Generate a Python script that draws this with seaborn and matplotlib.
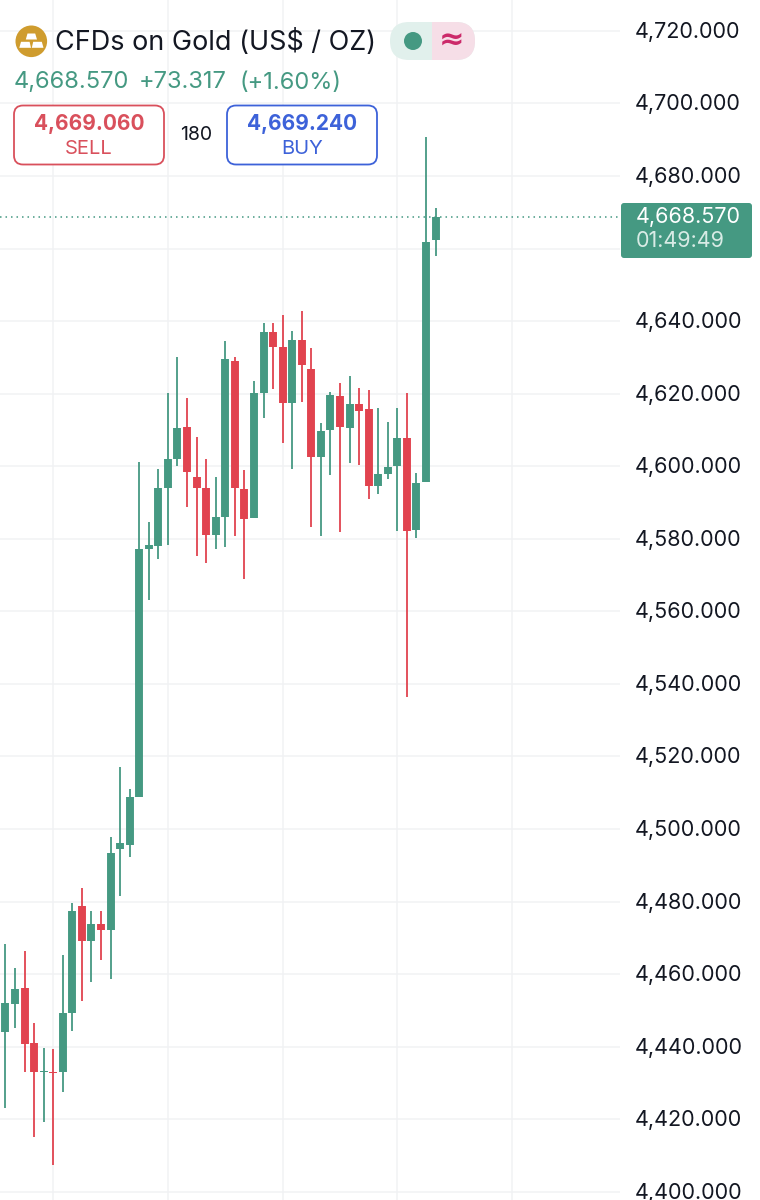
import numpy as np
import pandas as pd
import matplotlib
matplotlib.use("Agg")
import matplotlib.pyplot as plt
from matplotlib.patches import Circle, FancyBboxPatch, Polygon, Rectangle
from matplotlib.transforms import ScaledTranslation
import seaborn as sns

# candles, oldest first
opens = [4444.1, 4451.7, 4456.2, 4441.1, 4433.0, 4433.0, 4432.9, 4449.4, 4478.7, 4469.2,
         4473.8, 4472.2, 4494.5, 4495.7, 4508.8, 4577.2, 4578.0, 4594.1, 4601.9, 4610.7,
         4597.1, 4594.0, 4581.0, 4586.0, 4629.0, 4593.7, 4585.8, 4620.3, 4637.1, 4632.9,
         4617.3, 4634.8, 4626.7, 4602.5, 4610.0, 4619.4, 4610.6, 4617.2, 4615.8, 4594.6,
         4597.9, 4600.0, 4607.7, 4582.4, 4595.6, 4662.3]
highs = [4468.2, 4461.6, 4466.4, 4446.5, 4439.7, 4439.4, 4465.3, 4479.5, 4483.8, 4477.3,
         4477.4, 4497.9, 4517.0, 4511.0, 4601.1, 4584.7, 4599.2, 4620.1, 4630.0, 4618.9,
         4608.0, 4602.0, 4597.0, 4634.5, 4630.2, 4599.0, 4623.6, 4639.6, 4639.6, 4641.7,
         4637.3, 4642.9, 4632.5, 4611.8, 4620.5, 4622.9, 4624.9, 4621.5, 4621.0, 4616.0,
         4612.1, 4616.0, 4620.3, 4598.2, 4690.7, 4671.1]
lows = [4423.0, 4445.1, 4433.0, 4415.2, 4419.3, 4407.3, 4427.4, 4444.3, 4452.5, 4457.8,
        4463.9, 4458.7, 4481.6, 4492.4, 4508.8, 4563.1, 4574.4, 4578.3, 4600.1, 4588.8,
        4575.3, 4573.2, 4577.2, 4577.6, 4580.8, 4569.0, 4585.8, 4613.2, 4621.2, 4606.3,
        4599.2, 4617.7, 4583.2, 4580.8, 4597.5, 4581.8, 4601.0, 4600.3, 4590.9, 4592.4,
        4596.6, 4582.1, 4536.4, 4580.3, 4595.6, 4658.0]
closes = [4452.0, 4455.9, 4440.7, 4433.0, 4433.4, 4432.7, 4449.2, 4477.4, 4469.2, 4473.7,
          4472.2, 4493.5, 4496.1, 4508.8, 4577.2, 4578.3, 4594.0, 4602.0, 4610.6, 4598.4,
          4594.0, 4581.1, 4586.0, 4629.6, 4593.9, 4585.5, 4620.2, 4636.9, 4632.8, 4617.3,
          4634.8, 4627.9, 4602.5, 4609.8, 4619.7, 4610.9, 4617.1, 4615.3, 4594.6, 4597.9,
          4599.8, 4607.8, 4582.2, 4595.3, 4661.9, 4668.57]

price_ticks = list(range(4400, 4721, 20))
time_ticks = [5, 17, 29, 41, 53]
last_price = 4668.57

GREEN = "#459982"
RED = "#e1434f"
BLUE = "#3d62d9"
GRID = "#f1f2f4"

sns.set_theme(style="white")
plt.rcParams["font.family"] = ["Inter", "DejaVu Sans"]

df = pd.DataFrame({"candle": range(len(opens)), "open": opens, "high": highs,
                   "low": lows, "close": closes})
df["direction"] = np.where(df["close"] >= df["open"], "up", "down")

wicks = df.melt(id_vars=["candle", "direction"], value_vars=["low", "high"], value_name="price")
bodies = df.melt(id_vars=["candle", "direction"], value_vars=["open", "close"], value_name="price")
palette = {"up": GREEN, "down": RED}

fig = plt.figure(figsize=(7.6, 12), dpi=100, facecolor="white")
ax = fig.add_axes([0, 0, 620 / 760, 1])

for frame, width in [(wicks, 1.3), (bodies, 5.7)]:
    sns.lineplot(data=frame, x="candle", y="price", hue="direction", units="candle",
                 estimator=None, sort=False, palette=palette, linewidth=width,
                 solid_capstyle="butt", legend=False, ax=ax, zorder=3)

ax.set_xlim(-0.565, 64.29)
ax.set_ylim(4397.75, 4728.5)
ax.set_xticks(time_ticks)
ax.set_xticklabels([])
ax.set_yticks(price_ticks)
# 4,660 sits behind the price badge, so it gets no text
ax.set_yticklabels(["" if p == 4660 else f"{p:,.3f}" for p in price_ticks])
ax.yaxis.tick_right()
ax.tick_params(axis="y", length=0, pad=10.5, labelsize=15.5, labelcolor="#131722")
ax.tick_params(axis="x", length=0)
for label in ax.get_yticklabels():
    label.set_transform(label.get_transform() + ScaledTranslation(0, 1 / 100, fig.dpi_scale_trans))
ax.set_xlabel("")
ax.set_ylabel("")
ax.grid(True, color=GRID, linewidth=1.1)
ax.set_axisbelow(True)
sns.despine(ax=ax, left=True, bottom=True, right=True, top=True)
ax.axhline(last_price, color=GREEN, linewidth=1.1, linestyle=(0, (1, 2.6)), zorder=2)

# header and price badge, placed in pixels
ov = fig.add_axes([0, 0, 1, 1])
ov.set_xlim(0, 760)
ov.set_ylim(1200, 0)
ov.axis("off")
ov.patch.set_alpha(0)

ov.add_patch(FancyBboxPatch((621, 203), 131, 55, boxstyle="round,pad=0,rounding_size=3",
                            fc=GREEN, ec="none"))
ov.text(636, 217, f"{last_price:,.3f}", color="white", fontsize=15.5, va="center")
ov.text(636, 241, "01:49:49", color="#d8ebe5", fontsize=15.5, va="center")

# gold logo
ov.add_patch(Circle((31.3, 41.3), 15.8, fc="#cf9c2e", ec="none"))
for pts in [[(27.5, 33.5), (35.2, 33.5), (37, 39.5), (25.8, 39.5)],
            [(21, 41.8), (29.6, 41.8), (31, 47.8), (19.3, 47.8)],
            [(33.2, 41.8), (41.8, 41.8), (43.5, 47.8), (31.8, 47.8)]]:
    ov.add_patch(Polygon(pts, closed=True, fc="white", ec="none"))

ov.text(55, 42, "CFDs on Gold (US$ / OZ)", color="#131722", fontsize=19.45, va="center")

# market status pill
ov.add_patch(FancyBboxPatch((390, 22), 85, 38, boxstyle="round,pad=0,rounding_size=19",
                            fc="#e1f0ec", ec="none"))
pill = FancyBboxPatch((390, 22), 85, 38, boxstyle="round,pad=0,rounding_size=19",
                      fc="#f6dee7", ec="none")
ov.add_patch(pill)
pill.set_clip_path(Rectangle((432, 22), 43, 38, transform=ov.transData))
ov.add_patch(Circle((413, 41), 9, fc=GREEN, ec="none"))
ov.text(452, 41, "≈", color="#cc2a6a", fontsize=22, fontweight="bold", ha="center",
        va="center", family=["DejaVu Sans"])

ov.text(14, 82.5, "4,668.570", color=GREEN, fontsize=17, va="center")
ov.text(139, 82.5, "+73.317", color=GREEN, fontsize=17, va="center")
ov.text(239, 82.5, "(+1.60%)", color=GREEN, fontsize=17, va="center")

for x0, col, price, label in [(14, "#d9505c", "4,669.060", "SELL"), (227, BLUE, "4,669.240", "BUY")]:
    ov.add_patch(FancyBboxPatch((x0, 105.5), 150, 59, boxstyle="round,pad=0,rounding_size=9",
                                fc="white", ec=col, linewidth=1.3))
    ov.text(x0 + 75, 123.5, price, color=col, fontsize=15, fontweight="bold", ha="center", va="center")
    ov.text(x0 + 75, 148.5, label, color=col, fontsize=14.5, ha="center", va="center")
ov.text(196, 134.5, "180", color="#131722", fontsize=14, ha="center", va="center")

fig.savefig("out.png", dpi=100)
